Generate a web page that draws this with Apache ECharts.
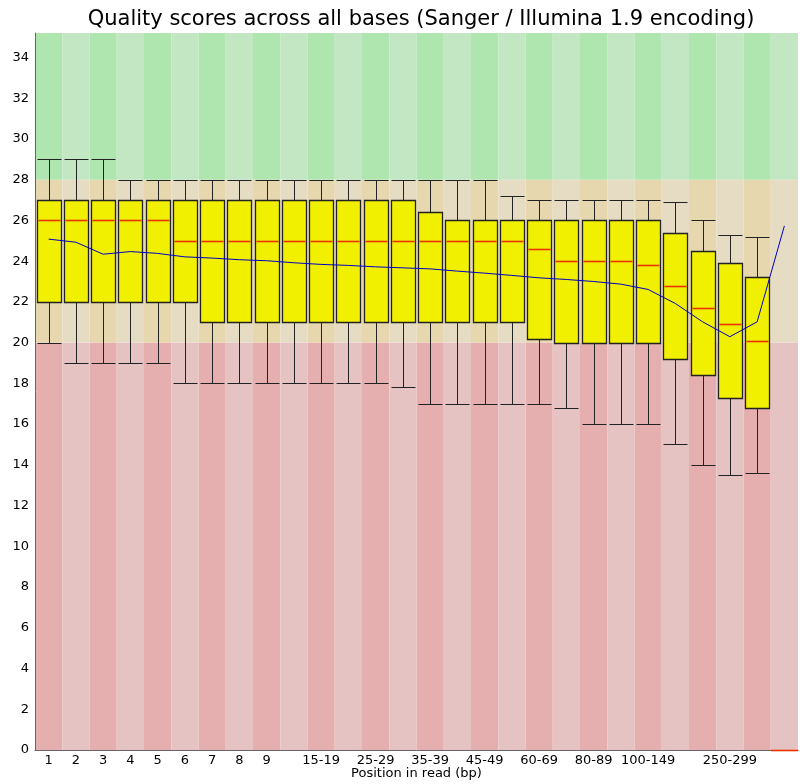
<!DOCTYPE html>
<html>
<head>
<meta charset="utf-8">
<script src="https://cdn.jsdelivr.net/npm/echarts@6/dist/echarts.min.js"></script>
<style>
  html, body { margin: 0; padding: 0; background: #fff; }
  #chartBox { width: 802px; height: 784px; }
</style>
</head>
<body>
<div id="chartBox"></div>
<script>
// positions in read (bp)
const categories = ['1', '2', '3', '4', '5', '6', '7', '8', '9', '10-14', '15-19', '20-24', '25-29', '30-34',
  '35-39', '40-44', '45-49', '50-59', '60-69', '70-79', '80-89', '90-99', '100-149', '150-199',
  '200-249', '250-299', '300-349', '350-351']
// which category labels are written under the axis
const shownLabels = [0, 1, 2, 3, 4, 5, 6, 7, 8, 10, 12, 14, 16, 18, 20, 22, 25]

const lowWhisker = [20, 19, 19, 19, 19, 18, 18, 18, 18, 18, 18, 18, 18, 17.8, 17, 17, 17, 17, 17, 16.8, 16, 16, 16, 15, 14, 13.5, 13.6, 0]
const lowerQuartile = [22, 22, 22, 22, 22, 22, 21, 21, 21, 21, 21, 21, 21, 21, 21, 21, 21, 21, 20.2, 20, 20, 20, 20, 19.2, 18.4, 17.3, 16.8, 0]
const median = [26, 26, 26, 26, 26, 25, 25, 25, 25, 25, 25, 25, 25, 25, 25, 25, 25, 25, 24.6, 24, 24, 24, 23.8, 22.8, 21.7, 20.9, 20.1, 0]
const upperQuartile = [27, 27, 27, 27, 27, 27, 27, 27, 27, 27, 27, 27, 27, 27, 26.4, 26, 26, 26, 26, 26, 26, 26, 26, 25.4, 24.5, 23.9, 23.2, 0]
const highWhisker = [29, 29, 29, 28, 28, 28, 28, 28, 28, 28, 28, 28, 28, 28, 28, 28, 28, 27.2, 27, 27, 27, 27, 27, 26.9, 26, 25.3, 25.2, 0]
const mean = [25.08, 24.93, 24.34, 24.47, 24.38, 24.21, 24.15, 24.07, 24.02, 23.92, 23.84, 23.79, 23.72, 23.67,
  23.62, 23.51, 23.41, 23.30, 23.18, 23.10, 23.00, 22.87, 22.61, 21.92, 21.02, 20.29, 21.02, 25.73]

// quality bands: red below 20, orange 20-28, green above 28
const bandEdges = [0, 20, 28, 35.2]
const bandColors = [
  ['rgb(230,175,175)', 'rgb(230,195,195)'],
  ['rgb(230,215,175)', 'rgb(230,220,195)'],
  ['rgb(175,230,175)', 'rgb(195,230,195)']
]

let myChart = echarts.init(document.getElementById('chartBox'))

function renderBackground (params, api) {
  let i = api.value(0)
  let cx = api.coord([i, 0])[0]
  let w = api.size([1, 0])[0]
  let children = []
  for (let b = 0; b < 3; b++) {
    let yTop = api.coord([i, bandEdges[b + 1]])[1]
    let yBot = api.coord([i, bandEdges[b]])[1]
    children.push({
      type: 'rect',
      shape: { x: cx - w / 2, y: yTop, width: w, height: yBot - yTop },
      style: { fill: bandColors[b][i % 2] }
    })
  }
  return { type: 'group', children: children }
}

function renderBox (params, api) {
  let i = api.value(0)
  let cx = Math.round(api.coord([i, 0])[0]) + 0.5
  let w = api.size([1, 0])[0]
  let bw = Math.round(w * 0.88)
  let x0 = cx - bw / 2
  let x1 = cx + bw / 2
  let y = k => Math.round(api.coord([i, api.value(k)])[1]) + 0.5
  let yLow = y(1), yQ1 = y(2), yMed = y(3), yQ3 = y(4), yHigh = y(5)
  let line = (a, b, c, d, color, lw) => ({
    type: 'line',
    shape: { x1: a, y1: b, x2: c, y2: d },
    style: { stroke: color || '#222', lineWidth: lw || 1 }
  })
  let children = []
  if (api.value(5) > 0) {
    children.push(
      line(cx, yHigh, cx, yQ3),
      line(cx, yQ1, cx, yLow),
      line(x0, yHigh, x1, yHigh),
      line(x0, yLow, x1, yLow),
      {
        type: 'rect',
        shape: { x: x0, y: yQ3, width: bw, height: yQ1 - yQ3 },
        style: { fill: 'rgb(240,240,0)', stroke: '#222', lineWidth: 1.3 }
      }
    )
  }
  // the last position has no box, only its median drawn across the column
  let mx0 = api.value(5) > 0 ? x0 + 1 : cx - w / 2
  let mx1 = api.value(5) > 0 ? x1 - 1 : cx + w / 2
  children.push(line(mx0, yMed, mx1, yMed, 'rgb(235,50,0)', 1.6))
  return { type: 'group', children: children }
}

myChart.setOption({
  animation: false,
  backgroundColor: '#fff',
  title: {
    text: 'Quality scores across all bases (Sanger / Illumina 1.9 encoding)',
    left: 416,
    textAlign: 'center',
    top: 4,
    textStyle: {
      fontFamily: 'DejaVu Sans',
      fontSize: 21,
      fontWeight: 'normal',
      color: '#000'
    }
  },
  grid: {
    left: 35,
    right: 4,
    top: 33,
    bottom: 34,
    outerBoundsMode: 'none'
  },
  xAxis: {
    type: 'category',
    data: categories,
    boundaryGap: true,
    name: 'Position in read (bp)',
    nameLocation: 'middle',
    nameGap: 17,
    nameMoveOverlap: false,
    nameTextStyle: { fontFamily: 'DejaVu Sans', fontSize: 13, color: '#000' },
    axisLine: { lineStyle: { color: '#666', width: 1 } },
    axisTick: { show: false },
    axisLabel: {
      interval: (idx) => shownLabels.indexOf(idx) >= 0,
      margin: 4,
      fontFamily: 'DejaVu Sans',
      fontSize: 13,
      color: '#000'
    },
    splitLine: { show: false }
  },
  yAxis: {
    type: 'value',
    min: 0,
    max: 35.2,
    interval: 2,
    axisLine: { show: true, lineStyle: { color: '#666', width: 1 } },
    axisTick: { show: false },
    axisLabel: {
      showMaxLabel: false,
      margin: 6,
      fontFamily: 'DejaVu Sans',
      fontSize: 13,
      color: '#000'
    },
    splitLine: { show: false }
  },
  series: [
    {
      type: 'custom',
      z: -1,
      silent: true,
      renderItem: renderBackground,
      data: categories.map((c, i) => [i])
    },
    {
      type: 'custom',
      z: 2,
      silent: true,
      renderItem: renderBox,
      data: categories.map((c, i) => [i, lowWhisker[i], lowerQuartile[i], median[i], upperQuartile[i], highWhisker[i]])
    },
    {
      name: 'Mean',
      type: 'line',
      z: 3,
      silent: true,
      showSymbol: false,
      symbol: 'none',
      data: mean,
      lineStyle: { color: 'rgb(0,0,200)', width: 1 }
    }
  ]
})
</script>
</body>
</html>
